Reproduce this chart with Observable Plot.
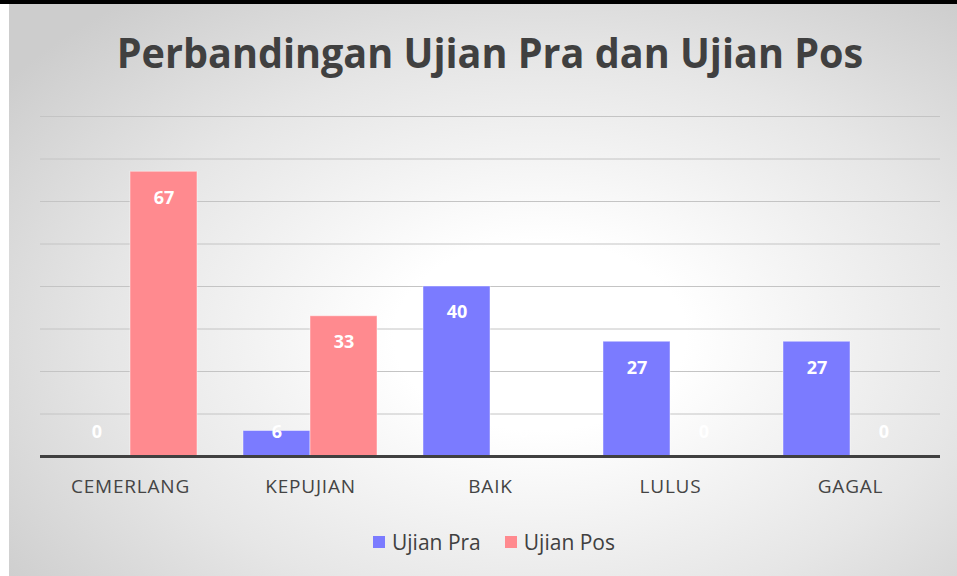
<!DOCTYPE html>
<html>
<head>
<meta charset="utf-8">
<script src="https://cdn.jsdelivr.net/npm/d3@7"></script>
<script src="https://cdn.jsdelivr.net/npm/@observablehq/plot@0.6"></script>
<style>
  html, body { margin: 0; padding: 0; background: #ffffff; width: 957px; height: 576px; overflow: hidden; }
  #topbar { position: absolute; left: 0; top: 0; width: 957px; height: 4px; background: #000; }
  #panel { position: absolute; left: 9px; top: 4px; width: 948px; height: 572px;
    background: radial-gradient(ellipse 70% 75% at 56% 58%, #ffffff 0%, #ffffff 22%, #e6e6e6 65%, #cdcdcd 100%); }
  #title { position: absolute; left: 7px; width: 948px; top: 27px; text-align: center;
    font-family: "Open Sans", sans-serif; font-weight: 700; font-size: 42px; color: #404040; line-height: 1;
    transform: scaleX(0.942); transform-origin: 474px 0; }
  #chart { position: absolute; left: 0; top: 0; }
  #legend { position: absolute; left: 11px; width: 948px; top: 522px; text-align: center;
    font-family: "Open Sans", sans-serif; font-size: 21px; color: #404040; }
  .item { display: inline-flex; align-items: center; margin: 0 12px; }
  .sw { width: 12px; height: 12px; display: inline-block; margin-right: 7px; }
</style>
</head>
<body>
<div id="topbar"></div>
<div id="panel">
  <div id="chart"></div>
  <div id="title">Perbandingan Ujian Pra dan Ujian Pos</div>
  <div id="legend"></div>
</div>
<script>
const categories = ["CEMERLANG", "KEPUJIAN", "BAIK", "LULUS", "GAGAL"];
const series = ["Ujian Pra", "Ujian Pos"];
const praValues = [0, 6, 40, 27, 27];
const posValues = [67, 33, 0, 0, 0];
const gridTicks = [10, 20, 30, 40, 50, 60, 70, 80];
const colors = ["#7b7bff", "#ff8a8f"];

const seriesValues = [praValues, posValues];
const rows = [];
series.forEach((s, i) => categories.forEach((c, j) => rows.push({cat: c, series: s, value: seriesValues[i][j]})));

const marks = [
  Plot.ruleY(gridTicks, {stroke: "#c4c4c4", strokeWidth: 1})
];
series.forEach((s, i) => {
  const data = rows.filter(d => d.series === s);
  const left = i === 0;
  marks.push(Plot.barY(data, {
    x: "cat", y: "value", fill: colors[i],
    stroke: "#ffffff", strokeOpacity: 0.45, strokeWidth: 1,
    insetLeft: left ? 23 : 90, insetRight: left ? 90 : 23
  }));
  marks.push(Plot.text(data.filter(d => d.value >= 12), {
    x: "cat", y: "value", text: d => String(d.value), dx: left ? -33.5 : 33.5, dy: 26,
    fill: "#ffffff", fontSize: 18, fontWeight: "bold", fontFamily: "Open Sans"
  }));
  marks.push(Plot.text(data.filter(d => d.value < 12), {
    x: "cat", y: 0, text: d => String(d.value), dx: left ? -33.5 : 33.5, dy: -24,
    fill: "#ffffff", fontSize: 18, fontWeight: "bold", fontFamily: "Open Sans"
  }));
});
marks.push(Plot.ruleY([0], {stroke: "#404040", strokeWidth: 3}));
marks.push(Plot.axisX({tickSize: 0, tickPadding: 23, fontSize: 19, fill: "#444444"}));

const chart = Plot.plot({
  width: 948, height: 572,
  marginLeft: 31, marginRight: 17, marginTop: 112, marginBottom: 120,
  style: {background: "transparent", fontFamily: "Open Sans", color: "#444444"},
  x: {domain: categories, padding: 0, label: null},
  y: {domain: [0, 80], axis: null},
  marks
});
chart.querySelectorAll("g[aria-label='x-axis tick label']").forEach(el => el.style.letterSpacing = "0.8px");
document.getElementById("chart").appendChild(chart);

const legend = document.getElementById("legend");
series.forEach((s, i) => {
  const item = document.createElement("span");
  item.className = "item";
  const sw = document.createElement("span");
  sw.className = "sw";
  sw.style.background = colors[i];
  item.appendChild(sw);
  item.appendChild(document.createTextNode(s));
  legend.appendChild(item);
});
</script>
</body>
</html>
